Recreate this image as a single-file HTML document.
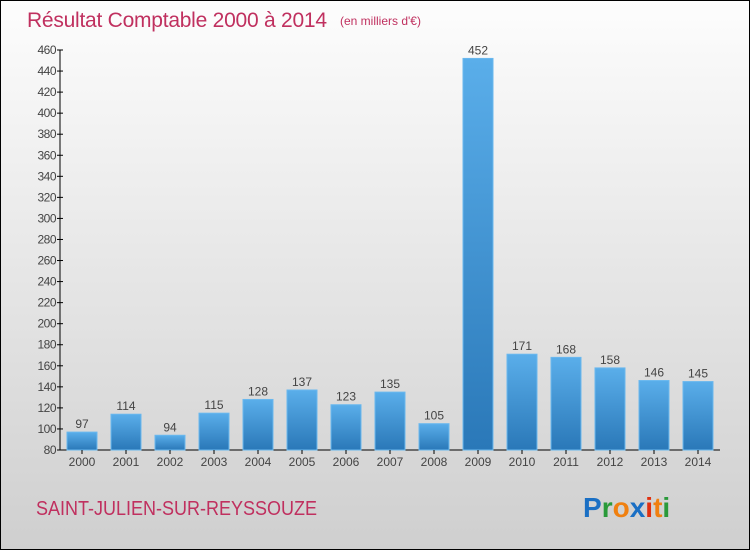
<!DOCTYPE html>
<html><head><meta charset="utf-8"><style>
body{margin:0}
#c{width:750px;height:550px;position:relative;box-sizing:border-box;border:1px solid #000;background:linear-gradient(#fdfdfd,#cfcfcf);font-family:"Liberation Sans",sans-serif;overflow:hidden}
</style></head><body>
<div id="c">
<svg id="s" width="750" height="550" style="position:absolute;left:-1px;top:-1px">
<text x="27" y="27" font-size="21" fill="#c0305f" textLength="300">Résultat Comptable 2000 à 2014</text>
<text x="340" y="25" font-size="12" fill="#c0305f">(en milliers d'€)</text>
<text x="36" y="515" font-size="20" fill="#c0305f" textLength="281" lengthAdjust="spacingAndGlyphs">SAINT-JULIEN-SUR-REYSSOUZE</text>
<text x="583" y="517" font-size="28" font-weight="bold"><tspan fill="#1a6fc4">P</tspan><tspan fill="#2a9a3a">r</tspan><tspan fill="#f08010">o</tspan><tspan fill="#1a6fc4">x</tspan><tspan fill="#e03010">i</tspan><tspan fill="#f08010">t</tspan><tspan fill="#2a9a3a">i</tspan></text>
<defs><linearGradient id="g" x1="0" y1="0" x2="0" y2="1"><stop offset="0" stop-color="#5aaeea"/><stop offset="1" stop-color="#2a78b8"/></linearGradient></defs>
<g id="plot"></g>
</svg>
</div>
<script>
const years=["2000","2001","2002","2003","2004","2005","2006","2007","2008","2009","2010","2011","2012","2013","2014"];
const values=[97,114,94,115,128,137,123,135,105,452,171,168,158,146,145];
const ticks=[80,100,120,140,160,180,200,220,240,260,280,300,320,340,360,380,400,420,440,460];
const NS="http://www.w3.org/2000/svg";
const g=document.getElementById('plot');
const y=v=>450-(v-80)*(400/380);
const x=i=>82+i*44;
function mk(t,a,txt){const e=document.createElementNS(NS,t);for(const k in a)e.setAttribute(k,a[k]);if(txt!=null)e.textContent=txt;g.appendChild(e);return e;}
let e=mk('line',{x1:60,y1:y(460),x2:60,y2:450,stroke:'#000'});


e=mk('line',{x1:60,y1:450,x2:720,y2:450,stroke:'#000'});


ticks.forEach(t=>{
 mk('line',{x1:57,y1:y(t),x2:63,y2:y(t),stroke:'#000'});
 e=mk('text',{x:56,y:y(t)+4,'font-size':12,'text-anchor':'end',fill:'#444','letter-spacing':'-0.5'},t);
 
 
});
values.forEach((v,i)=>{
 e=mk('rect',{x:x(i)-15,y:y(v),width:30,height:450-y(v),fill:'url(#g)',stroke:'#6ab8ee','stroke-width':1});
 
 
 e=mk('text',{x:x(i),y:y(v)-4,'font-size':12,'text-anchor':'middle',fill:'#444'},v);
 
 
 mk('line',{x1:x(i),y1:450,x2:x(i),y2:454,stroke:'#000'});
 e=mk('text',{x:x(i),y:466,'font-size':12,'text-anchor':'middle',fill:'#444'},years[i]);
 
 
});
</script>
</body></html>
